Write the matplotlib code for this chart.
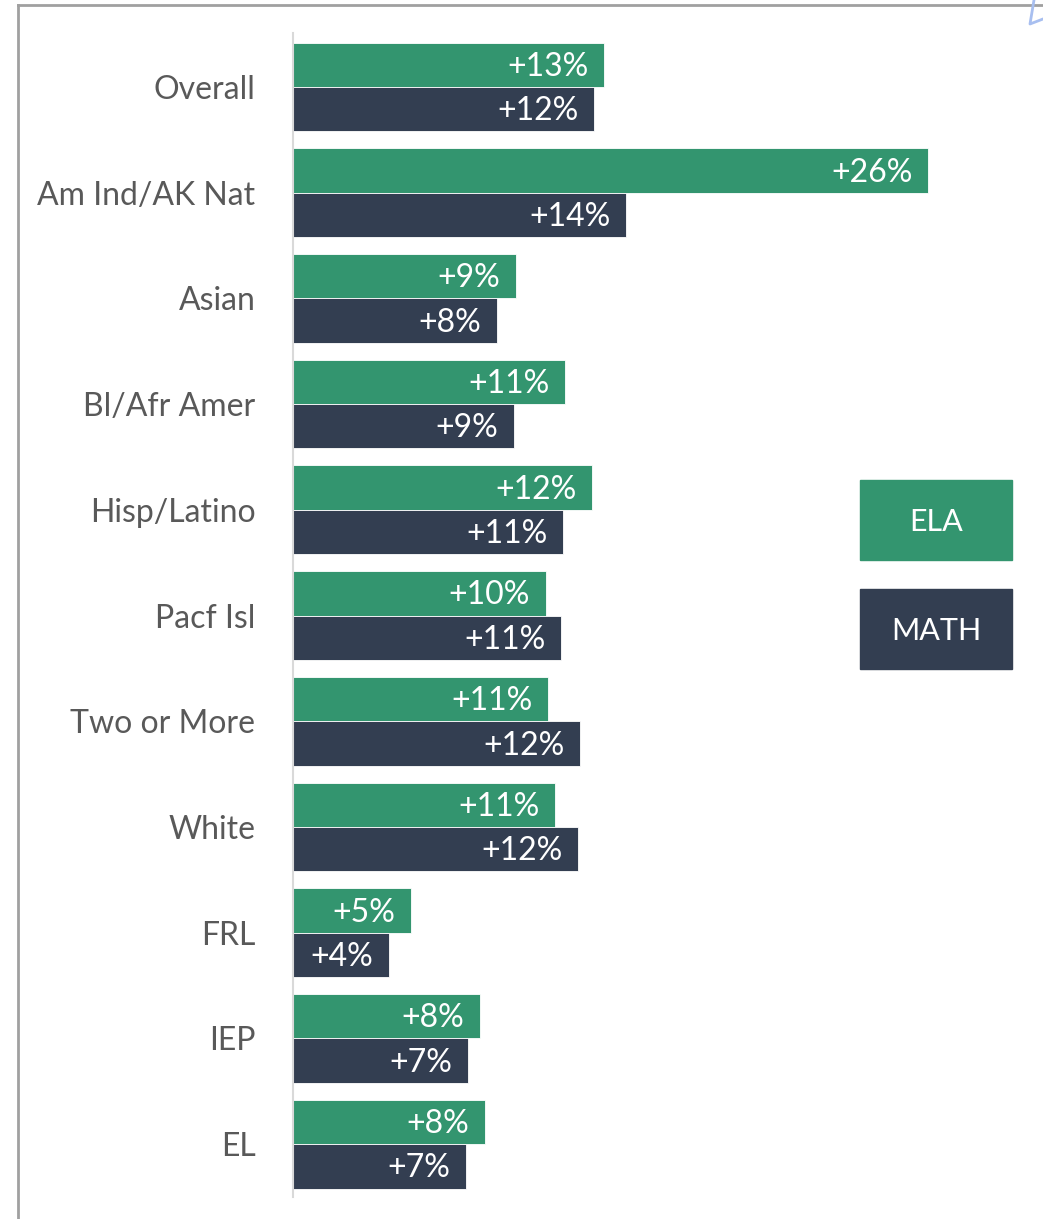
import matplotlib
matplotlib.use("Agg")
import matplotlib.pyplot as plt
from matplotlib.patches import Rectangle
from matplotlib.lines import Line2D
import numpy as np

categories = ["Overall", "Am Ind/AK Nat", "Asian", "Bl/Afr Amer", "Hisp/Latino",
              "Pacf Isl", "Two or More", "White", "FRL", "IEP", "EL"]
ela = [12.85, 26.24, 9.21, 11.24, 12.36, 10.45, 10.54, 10.83, 4.88, 7.73, 7.93]
math_ = [12.44, 13.76, 8.43, 9.13, 11.16, 11.07, 11.86, 11.78, 3.97, 7.23, 7.15]

green = "#33956f"
navy = "#333e51"
W, H = 1043, 1219

plt.rcParams["font.family"] = ["Lato", "DejaVu Sans"]
fig = plt.figure(figsize=(W / 100, H / 100), dpi=100)

# axes placed in pixel terms
ax_left, ax_right, ax_top, ax_bot = 293, 1000, 33, 1197
ax = fig.add_axes([ax_left / W, 1 - ax_bot / H, (ax_right - ax_left) / W, (ax_bot - ax_top) / H])

y = np.arange(len(categories))
h = 0.42
ax.barh(y - h / 2, ela, height=h, color=green, edgecolor="#ffffff", linewidth=0.6)
ax.barh(y + h / 2, math_, height=h, color=navy, edgecolor="#ffffff", linewidth=0.6)

pad = 0.65
for i in range(len(categories)):
    ax.text(ela[i] - pad, y[i] - h / 2 + 0.02, f"+{ela[i]:.0f}%", ha="right", va="center",
            color="white", fontsize=23)
    ax.text(math_[i] - pad, y[i] + h / 2 + 0.02, f"+{math_[i]:.0f}%", ha="right", va="center",
            color="white", fontsize=23)

ax.set_xlim(0, (ax_right - ax_left) / 24.2)
ax.set_ylim(10.5, -0.51)
ax.set_yticks(y)
ax.set_yticklabels(categories, fontsize=23, color="#595959")
ax.tick_params(axis="y", length=0, pad=27)
ax.set_xticks([])
for s in ["top", "right", "bottom"]:
    ax.spines[s].set_visible(False)
ax.spines["left"].set_color("#d9d9d9")
ax.spines["left"].set_linewidth(1.5)

# legend boxes
for (label, col, top) in [("ELA", green, 480), ("MATH", navy, 589)]:
    fig.patches.append(Rectangle((860 / W, 1 - (top + 80) / H), 152 / W, 80 / H,
                                 transform=fig.transFigure, color=col))
    fig.text(936 / W, 1 - (top + 42) / H, label, ha="center", va="center",
             color="white", fontsize=22)

# outer frame lines
fig.add_artist(Line2D([18 / W, 1], [1 - 5 / H, 1 - 5 / H], transform=fig.transFigure,
                      color="#a0a0a0", linewidth=2))
fig.add_artist(Line2D([18 / W, 18 / W], [0, 1 - 5 / H], transform=fig.transFigure,
                      color="#a0a0a0", linewidth=2))
# selection handle fragment
fig.add_artist(Line2D([1034 / W, 1030 / W, 1043 / W], [1, 1 - 24 / H, 1 - 19 / H],
                      transform=fig.transFigure, color="#a8bff0", linewidth=2))

fig.savefig("out.png", dpi=100)
